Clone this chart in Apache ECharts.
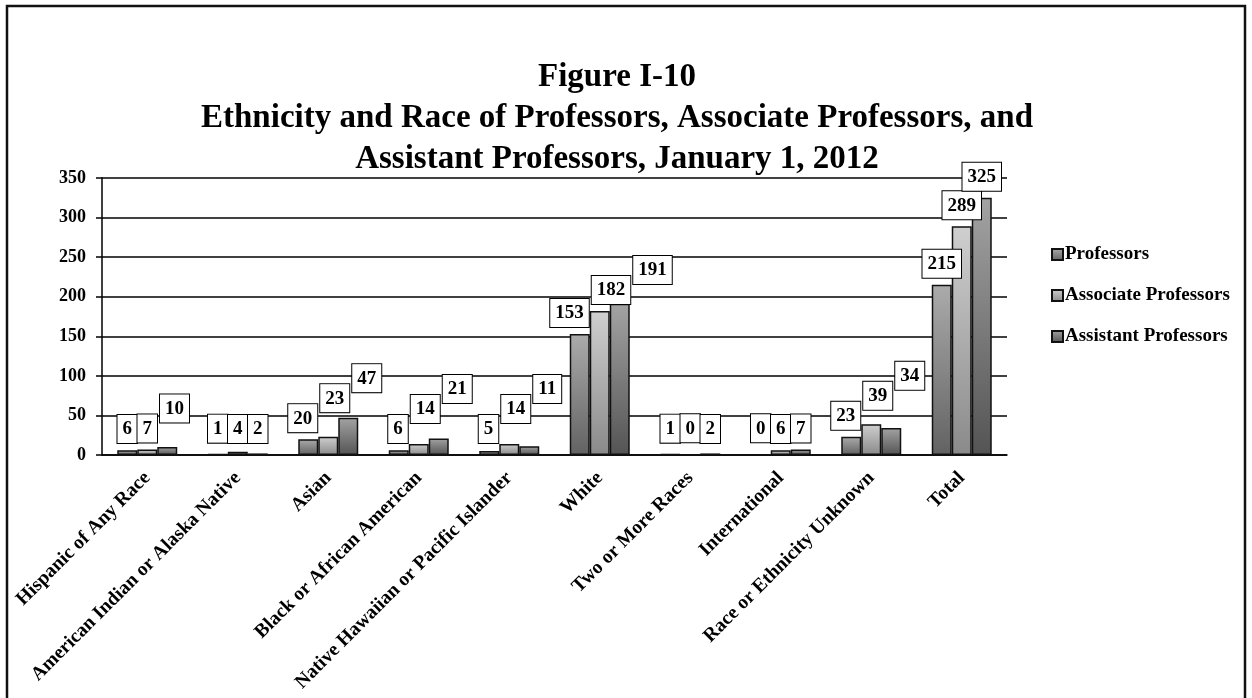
<!DOCTYPE html>
<html>
<head>
<meta charset="utf-8">
<script src="https://cdn.jsdelivr.net/npm/echarts@6/dist/echarts.min.js"></script>
<style>
  html, body { margin: 0; padding: 0; background: #fff; }
  #chart { width: 1252px; height: 698px; }
</style>
</head>
<body>
<div id="chart"></div>
<script>
// data
const categories = [
  'Hispanic of Any Race',
  'American Indian or Alaska Native',
  'Asian',
  'Black or African American',
  'Native Hawaiian or Pacific Islander',
  'White',
  'Two or More Races',
  'International',
  'Race or Ethnicity Unknown',
  'Total'
]
const professors = [6, 1, 20, 6, 5, 153, 1, 0, 23, 215]
const associateProfessors = [7, 4, 23, 14, 14, 182, 0, 6, 39, 289]
const assistantProfessors = [10, 2, 47, 21, 11, 191, 2, 7, 34, 325]
const seriesNames = ['Professors', 'Associate Professors', 'Assistant Professors']
const yTicks = [0, 50, 100, 150, 200, 250, 300, 350]

const FONT = 'Liberation Serif'
const BAR_W = 20
const BOX_H = 28

function grad(top, bottom) {
  return {
    type: 'linear', x: 0, y: 0, x2: 0, y2: 1,
    colorStops: [{ offset: 0, color: top }, { offset: 1, color: bottom }]
  }
}
const fills = [grad('#ababab', '#626262'), grad('#cfcfcf', '#8a8a8a'), grad('#a3a3a3', '#545454')]
const allData = [professors, associateProfessors, assistantProfessors]

const chart = echarts.init(document.getElementById('chart'))

const labelStyle = {
  show: true,
  position: 'top',
  distance: 0,
  color: '#000',
  fontFamily: FONT,
  fontWeight: 'bold',
  fontSize: 19,
  lineHeight: 21,
  backgroundColor: '#fff',
  borderColor: '#000',
  borderWidth: 1,
  padding: [4, 5, 3, 5]
}

chart.setOption({
  animation: false,
  backgroundColor: '#fff',
  graphic: [
    {
      type: 'rect',
      shape: { x: 7, y: 6, width: 1238, height: 740 },
      style: { fill: 'none', stroke: '#111', lineWidth: 2.5 },
      z: 100
    },
    {
      type: 'text',
      x: 617,
      y: 57,
      style: {
        text: 'Figure I-10\nEthnicity and Race of Professors, Associate Professors, and\nAssistant Professors, January 1, 2012',
        fontFamily: FONT,
        fontWeight: 'bold',
        fontSize: 33,
        lineHeight: 41,
        textAlign: 'center',
        textVerticalAlign: 'top',
        fill: '#000'
      }
    }
  ],
  legend: {
    orient: 'vertical',
    left: 1046,
    top: 240,
    itemGap: 22,
    itemWidth: 11,
    itemHeight: 11,
    icon: 'rect',
    data: seriesNames,
    textStyle: { fontFamily: FONT, fontWeight: 'bold', fontSize: 19, color: '#000', padding: [0, 0, 0, -3] }
  },
  grid: { left: 102, right: 245, top: 178, bottom: 243 },
  xAxis: {
    type: 'category',
    data: categories,
    axisLine: { lineStyle: { color: '#000', width: 1.5 } },
    axisTick: { show: false },
    axisLabel: {
      rotate: 45,
      interval: 0,
      margin: 20,
      fontFamily: FONT,
      fontWeight: 'bold',
      fontSize: 19.5,
      color: '#000'
    }
  },
  yAxis: {
    type: 'value',
    min: yTicks[0],
    max: yTicks[yTicks.length - 1],
    interval: 50,
    axisLine: { show: true, lineStyle: { color: '#000', width: 1.5 } },
    axisTick: { show: true, length: 6, lineStyle: { color: '#000', width: 1.5 } },
    splitLine: { lineStyle: { color: '#000', width: 1.5 } },
    axisLabel: { margin: 16, fontFamily: FONT, fontWeight: 'bold', fontSize: 18, color: '#000' }
  },
  series: seriesNames.map((name, s) => ({
    name: name,
    type: 'bar',
    barWidth: BAR_W,
    barGap: '0%',
    itemStyle: { color: fills[s], borderColor: '#111', borderWidth: 1.5 },
    data: allData[s]
  }))
})

// place the value boxes roughly like Excel does: centred over the bar,
// stepped up and pushed sideways when they run into the previous one
function placeLabels() {
  const ctx = document.createElement('canvas').getContext('2d')
  ctx.font = 'bold 19px "' + FONT + '"'
  const base = chart.convertToPixel({ gridIndex: 0 }, [0, 0])[1]
  const offsets = [[], [], []]
  categories.forEach((c, i) => {
    const boxes = []
    allData.forEach((vals, s) => {
      const v = vals[i]
      const p = chart.convertToPixel({ gridIndex: 0 }, [i, v])
      const barX = p[0] + (s - 1) * BAR_W
      const b = {
        barX: barX,
        cx: barX,
        barTop: p[1],
        w: ctx.measureText(String(v)).width + 12,
        bottom: Math.min(p[1] - 7, base - 12)
      }
      const q = boxes[s - 1]
      if (q) {
        let over = (b.w + q.w) / 2 - (b.cx - q.cx)
        if (over > 4) {
          b.bottom = Math.min(b.bottom, q.bottom - 20)
          if (q.bottom - b.bottom < BOX_H) {
            if (s === 1) {
              const back = Math.max(0, Math.min(over / 2, (q.w - BAR_W) / 2))
              q.cx -= back
              over -= back
            }
            b.cx += over + 1
          }
        }
      }
      boxes.push(b)
    })
    boxes.forEach((b, s) => {
      offsets[s][i] = [b.cx - b.barX, b.bottom - b.barTop]
    })
  })
  chart.setOption({
    series: allData.map((vals, s) => ({
      label: labelStyle,
      data: vals.map((v, i) => ({ value: v, label: { offset: offsets[s][i] } }))
    }))
  })
}
placeLabels()
</script>
</body>
</html>
